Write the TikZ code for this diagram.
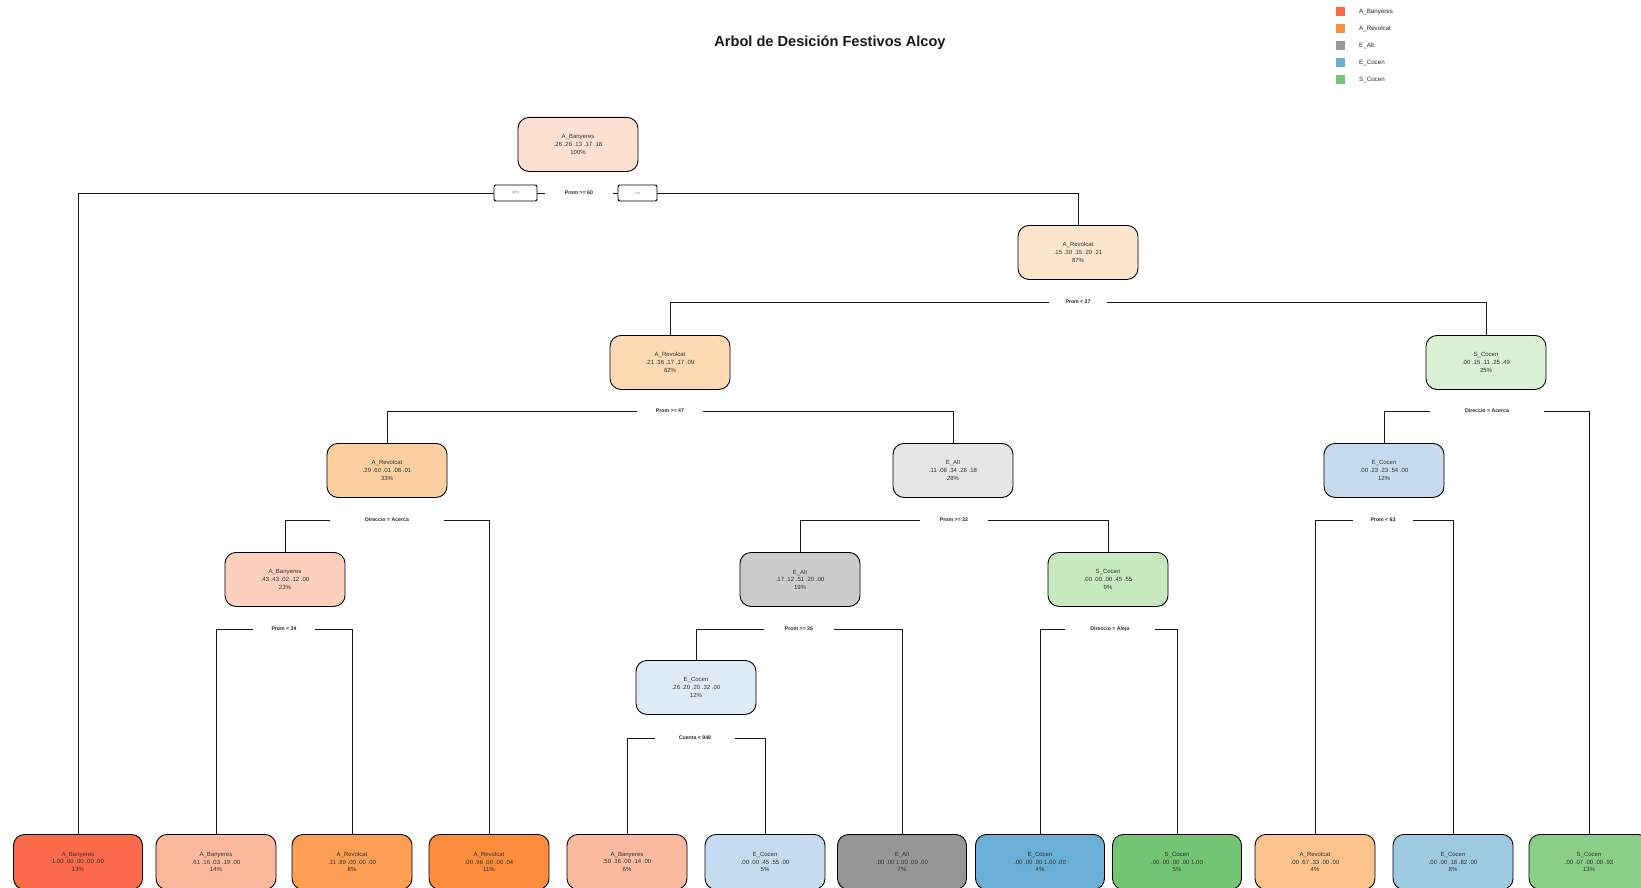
\documentclass[tikz,border=0pt]{standalone}
\usepackage{fontspec}
\setmainfont{Liberation Sans}
\definecolor{cRoot}{HTML}{FEE0D2}
\definecolor{cR87}{HTML}{FEE6CE}
\definecolor{cR62}{HTML}{FDDAB4}
\definecolor{cS25}{HTML}{D9F0D3}
\definecolor{cR33}{HTML}{FDD0A2}
\definecolor{cE28}{HTML}{E6E6E6}
\definecolor{cC12r}{HTML}{C6DBEF}
\definecolor{cB23}{HTML}{FCD0BD}
\definecolor{cE19}{HTML}{CCCCCC}
\definecolor{cS9}{HTML}{C7E9C0}
\definecolor{cC12l}{HTML}{DEEBF7}
\definecolor{lB100}{HTML}{FB6A4A}
\definecolor{lB61}{HTML}{FCB99D}
\definecolor{lR89}{HTML}{FD9F55}
\definecolor{lR96}{HTML}{FD8D3C}
\definecolor{lB50}{HTML}{FCBBA1}
\definecolor{lC55}{HTML}{C6DBEF}
\definecolor{lE100}{HTML}{969696}
\definecolor{lC100}{HTML}{6BAED6}
\definecolor{lS100}{HTML}{74C476}
\definecolor{lR67}{HTML}{FDC38C}
\definecolor{lC82}{HTML}{9ECAE1}
\definecolor{lS93}{HTML}{8ACE88}
\definecolor{kB}{HTML}{FB6A4A}
\definecolor{kR}{HTML}{FD8D3C}
\definecolor{kE}{HTML}{999999}
\definecolor{kC}{HTML}{6BAED6}
\definecolor{kS}{HTML}{74C476}
\tikzset{
  tn/.style={draw=black, line width=0.9pt, rounded corners=11pt, minimum width=120pt,
    minimum height=54pt, align=center, inner sep=0pt, anchor=north,
    font=\fontsize{6}{7.6}\selectfont, text=black!80},
  lf/.style={tn, minimum height=55pt},
  wide/.style={minimum width=129pt},
  sl/.style={inner sep=0pt, minimum height=6pt, font=\fontsize{5.2}{6}\selectfont\bfseries, text=black!85},
  yn/.style={draw=black, line width=0.9pt, rounded corners=2pt, fill=white, minimum height=16pt,
    inner sep=0pt, font=\fontsize{4}{5}\selectfont, text=black!50},
  edge/.style={line width=0.9pt, draw=black!90},
  key/.style={minimum size=9pt, inner sep=0pt},
  keytext/.style={anchor=west, inner sep=0pt, font=\fontsize{6.2}{7}\selectfont, text=black!85}
}
\begin{document}
\begin{tikzpicture}[x=1pt,y=-1pt]
\useasboundingbox (0,0) rectangle (1641,888);
\clip (0,0) rectangle (1641,888);
\fill[white] (0,0) rectangle (1641,888);

% title
\node[font=\fontsize{14.6}{17}\selectfont\bfseries, text=black!90] (title) at (830,42.5) {Arbol de Desición Festivos Alcoy};

% legend
\node[key, fill=kB] (k1) at (1340.5,12) {};
\node[key, fill=kR] (k2) at (1340.5,28.8) {};
\node[key, fill=kE] (k3) at (1340.5,45.6) {};
\node[key, fill=kC] (k4) at (1340.5,62.4) {};
\node[key, fill=kS] (k5) at (1340.5,79.2) {};
\node[keytext] (t1) at (1359,12.5) {A\_Banyeres};
\node[keytext] (t2) at (1359,29.3) {A\_Revolcat};
\node[keytext] (t3) at (1359,46.1) {E\_Alt};
\node[keytext] (t4) at (1359,62.9) {E\_Cocen};
\node[keytext] (t5) at (1359,79.7) {S\_Cocen};

% internal nodes
\node[tn, fill=cRoot] (n1) at (578,117) {A\_Banyeres\\.26 .26 .13 .17 .18\\100\%};
\node[tn, fill=cR87] (n3) at (1078,225) {A\_Revolcat\\.15 .30 .15 .20 .21\\87\%};
\node[tn, fill=cR62] (n6) at (670,335) {A\_Revolcat\\.21 .36 .17 .17 .09\\62\%};
\node[tn, fill=cS25] (n7) at (1486,335) {S\_Cocen\\.00 .15 .11 .25 .49\\25\%};
\node[tn, fill=cR33] (n12) at (387,443) {A\_Revolcat\\.29 .60 .01 .08 .01\\33\%};
\node[tn, fill=cE28] (n13) at (953,443) {E\_Alt\\.11 .08 .34 .28 .18\\28\%};
\node[tn, fill=cC12r] (n14) at (1384,443) {E\_Cocen\\.00 .23 .23 .54 .00\\12\%};
\node[tn, fill=cB23] (n24) at (285,552) {A\_Banyeres\\.43 .43 .02 .12 .00\\23\%};
\node[tn, fill=cE19] (n26) at (800,552) {E\_Alt\\.17 .12 .51 .20 .00\\19\%};
\node[tn, fill=cS9] (n27) at (1108,552) {S\_Cocen\\.00 .00 .00 .45 .55\\9\%};
\node[tn, fill=cC12l] (n52) at (696,660) {E\_Cocen\\.26 .20 .20 .32 .00\\12\%};

% leaves
\node[lf, wide, fill=lB100] (l1) at (78,834) {A\_Banyeres\\1.00 .00 .00 .00 .00\\13\%};
\node[lf, fill=lB61] (l2) at (216,834) {A\_Banyeres\\.61 .16 .03 .19 .00\\14\%};
\node[lf, fill=lR89] (l3) at (352,834) {A\_Revolcat\\.11 .89 .00 .00 .00\\8\%};
\node[lf, fill=lR96] (l4) at (489,834) {A\_Revolcat\\.00 .96 .00 .00 .04\\11\%};
\node[lf, fill=lB50] (l5) at (627,834) {A\_Banyeres\\.50 .36 .00 .14 .00\\6\%};
\node[lf, fill=lC55] (l6) at (765,834) {E\_Cocen\\.00 .00 .45 .55 .00\\5\%};
\node[lf, wide, fill=lE100] (l7) at (902,834) {E\_Alt\\.00 .00 1.00 .00 .00\\7\%};
\node[lf, wide, fill=lC100] (l8) at (1040,834) {E\_Cocen\\.00 .00 .00 1.00 .00\\4\%};
\node[lf, wide, fill=lS100] (l9) at (1177,834) {S\_Cocen\\.00 .00 .00 .00 1.00\\5\%};
\node[lf, fill=lR67] (l10) at (1315,834) {A\_Revolcat\\.00 .67 .33 .00 .00\\4\%};
\node[lf, fill=lC82] (l11) at (1453,834) {E\_Cocen\\.00 .00 .18 .82 .00\\8\%};
\node[lf, fill=lS93] (l12) at (1589,834) {S\_Cocen\\.00 .07 .00 .00 .93\\13\%};

% split labels
\node[sl, minimum width=68pt] (s1) at (579,193) {Prom >= 60};
\node[yn, minimum width=43pt] (yes) at (515.5,193) {yes};
\node[yn, minimum width=39pt] (no) at (637.5,193) {no};
\node[sl, minimum width=57pt] (s3) at (1078,302) {Prom < 37};
\node[sl, minimum width=65pt] (s6) at (670,411) {Prom >= 47};
\node[sl, minimum width=114pt] (s7) at (1487,411) {Direccio = Acerca};
\node[sl, minimum width=113pt] (s12) at (387,520) {Direccio = Acerca};
\node[sl, minimum width=67pt] (s13) at (954,520) {Prom >= 32};
\node[sl, minimum width=60pt] (s14) at (1383,520) {Prom < 63};
\node[sl, minimum width=61pt] (s24) at (284,629) {Prom < 34};
\node[sl, minimum width=69pt] (s26) at (799,629) {Prom >= 26};
\node[sl, minimum width=89pt] (s27) at (1110,629) {Direccio = Alejo};
\node[sl, minimum width=79pt] (s52) at (695,738) {Cuenta < 948};

% connectors
\draw[edge] (s1.west) -- (yes.east);
\draw[edge] (yes.west) -| (l1.north);
\draw[edge] (s1.east) -- (no.west);
\draw[edge] (no.east) -| (n3.north);
\draw[edge] (s3.west) -| (n6.north);
\draw[edge] (s3.east) -| (n7.north);
\draw[edge] (s6.west) -| (n12.north);
\draw[edge] (s6.east) -| (n13.north);
\draw[edge] (s7.west) -| (n14.north);
\draw[edge] (s7.east) -| (l12.north);
\draw[edge] (s12.west) -| (n24.north);
\draw[edge] (s12.east) -| (l4.north);
\draw[edge] (s13.west) -| (n26.north);
\draw[edge] (s13.east) -| (n27.north);
\draw[edge] (s14.west) -| (l10.north);
\draw[edge] (s14.east) -| (l11.north);
\draw[edge] (s24.west) -| (l2.north);
\draw[edge] (s24.east) -| (l3.north);
\draw[edge] (s26.west) -| (n52.north);
\draw[edge] (s26.east) -| (l7.north);
\draw[edge] (s27.west) -| (l8.north);
\draw[edge] (s27.east) -| (l9.north);
\draw[edge] (s52.west) -| (l5.north);
\draw[edge] (s52.east) -| (l6.north);
\end{tikzpicture}
\end{document}
